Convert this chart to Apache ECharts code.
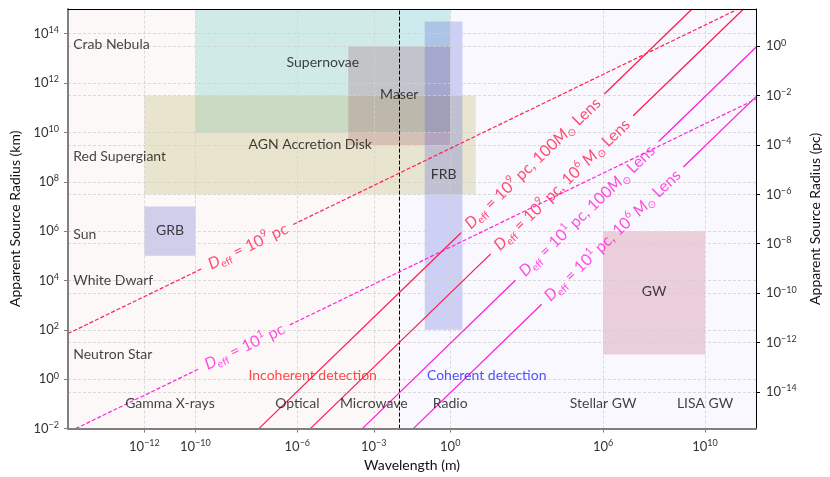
<!DOCTYPE html>
<html>
<head>
<meta charset="utf-8">
<script src="https://cdn.jsdelivr.net/npm/echarts@6/dist/echarts.min.js"></script>
<style>
html, body { margin: 0; padding: 0; background: #fff; }
#chart { width: 830px; height: 477px; }
</style>
</head>
<body>
<div id="chart"></div>
<script>
const lg = Math.log10;
const KM_PER_PC = 3.0857e13;

// axis ticks (m, km, pc)
const xTickValues = [1e-12, 1e-10, 1e-6, 1e-3, 1, 1e6, 1e10];
const yKmTickValues = [1e-2, 1, 1e2, 1e4, 1e6, 1e8, 1e10, 1e12, 1e14];
const yPcTickValues = [1e-14, 1e-12, 1e-10, 1e-8, 1e-6, 1e-4, 1e-2, 1];
const xRange = [1e-15, 1e12];
const yKmRange = [1e-2, 1e15];

// astrophysical objects (radius in km)
const objectNames = ['Crab Nebula', 'Red Supergiant', 'Sun', 'White Dwarf', 'Neutron Star'];
const objectRadii = [3.5e13, 1.1e9, 7.4e5, 1.0e4, 10];
const objectLabelWavelength = 1.6e-15;

// wavelength bands
const bandNames = ['Gamma X-rays', 'Optical', 'Microwave', 'Radio', 'Stellar GW', 'LISA GW'];
const bandWavelengths = [1e-11, 1e-6, 1e-3, 1, 1e6, 1e10];
const bandLabelRadius = 0.1;

// shaded source regions: [lambda min, lambda max], [R min, R max]
const regionNames = ['Supernovae', 'AGN Accretion Disk', 'Maser', 'FRB', 'GRB', 'GW'];
const regionWavelengths = [[1e-10, 1], [1e-12, 10], [1e-4, 1], [0.1, 3], [1e-12, 1e-10], [1e6, 1e10]];
const regionRadii = [[1e10, 1e15], [3.09e7, 3.09e11], [3.09e9, 3.09e13], [100, 3.09e14], [1e5, 1e7], [10, 1e6]];
const regionLabelAt = [[1e-5, 6.5e12], [3.2e-6, 3.2e9], [1e-2, 3.3e11], [0.55, 2e8], [1e-11, 1.1e6], [1e8, 3.5e3]];

// detection regimes
const coherentBoundary = 0.01;
const detectionNames = ['Incoherent detection', 'Coherent detection'];
const detectionAt = [[4e-6, 1.45], [27, 1.45]];

// lines: start, gap start, gap end, end  [lambda (m), R (km)]
const fresnel9 = [[1e-15, 70.8], [1.95e-10, 3.13e4], [6.9e-7, 1.86e6], [2e11, 1e15]];
const fresnel1 = [[2e-15, 0.01], [1.43e-10, 2.68], [5.07e-7, 159], [1e12, 2.24e11]];
const lens9m2 = [[3.09e-8, 0.01], [2.67, 8.6e5], [1.12e6, 3.6e11], [3.09e9, 1e15]];
const lens9m6 = [[3.24e-6, 0.01], [38.9, 1.2e5], [1.51e7, 4.7e10], [3.24e11, 1e15]];
const lens1m2 = [[3.55e-4, 0.01], [363, 1.02e4], [1.51e8, 4.27e9], [1e12, 2.82e13]];
const lens1m6 = [[0.0355, 0.01], [3890, 1.1e3], [1.41e9, 4e8], [1e12, 2.82e11]];

const lineLabels = [
    '{i|D}{sub|eff}{n| = 10}{sup|9}{n| pc}',
    '{i|D}{sub|eff}{n| = 10}{sup|1}{n| pc}',
    '{i|D}{sub|eff}{n| = 10}{sup|9}{n| pc, 100}{i|M}{sub|\u2299}{n| Lens}',
    '{i|D}{sub|eff}{n| = 10}{sup|9}{n| pc, 10}{sup|6}{i| M}{sub|\u2299}{n| Lens}',
    '{i|D}{sub|eff}{n| = 10}{sup|1}{n| pc, 100}{i|M}{sub|\u2299}{n| Lens}',
    '{i|D}{sub|eff}{n| = 10}{sup|1}{n| pc, 10}{sup|6}{i| M}{sub|\u2299}{n| Lens}'
];

// ---- styles ----
const FONT = 'Lato';
const RED = '#ff2050';
const MAGENTA = '#ff22d8';
const TEXT = '#111';
const GRID = { left: 64, right: 69, top: 9, bottom: 48 };
const W = 830, H = 477;
const regionColors = [
    'rgba(32,178,170,0.2)',
    'rgba(189,183,107,0.3)',
    'rgba(150,65,85,0.22)',
    'rgba(80,90,215,0.26)',
    'rgba(80,80,195,0.25)',
    'rgba(180,60,90,0.22)'
];

const pxPerDecX = (W - GRID.left - GRID.right) / (lg(xRange[1]) - lg(xRange[0]));
const pxPerDecY = (H - GRID.top - GRID.bottom) / (lg(yKmRange[1]) - lg(yKmRange[0]));

function expText(v) {
    const e = Math.round(v);
    return e < 0 ? '\u2212' + (-e) : String(e);
}
function powLabel(v) {
    return '{b|10}{s|' + expText(v) + '}';
}
const tickRich = {
    b: { fontSize: 13, fontFamily: FONT, color: '#333', lineHeight: 16 },
    s: { fontSize: 9, fontFamily: FONT, color: '#333', lineHeight: 8, verticalAlign: 'top' }
};

function lineRich(color) {
    return {
        n: { fontSize: 16, fontFamily: FONT, color: color, lineHeight: 21 },
        i: { fontSize: 16, fontFamily: FONT, fontStyle: 'italic', color: color, lineHeight: 21 },
        sub: { fontSize: 10.5, fontFamily: FONT, color: color, lineHeight: 15, verticalAlign: 'bottom' },
        sup: { fontSize: 10.5, fontFamily: FONT, color: color, lineHeight: 10, verticalAlign: 'top' }
    };
}

const lineDefs = [
    { name: 'fresnel9', pts: fresnel9, color: RED, dashed: true },
    { name: 'fresnel1', pts: fresnel1, color: MAGENTA, dashed: true },
    { name: 'lens9m2', pts: lens9m2, color: RED, dashed: false },
    { name: 'lens9m6', pts: lens9m6, color: RED, dashed: false },
    { name: 'lens1m2', pts: lens1m2, color: MAGENTA, dashed: false },
    { name: 'lens1m6', pts: lens1m6, color: MAGENTA, dashed: false }
];

const series = [];

// plot background: incoherent / coherent halves
series.push({
    type: 'line', data: [], silent: true,
    markArea: {
        silent: true, z: 0, label: { show: false },
        data: [
            [{ xAxis: lg(xRange[0]), itemStyle: { color: '#fdf8f8' } }, { xAxis: lg(coherentBoundary) }],
            [{ xAxis: lg(coherentBoundary), itemStyle: { color: '#f9f8fe' } }, { xAxis: lg(xRange[1]) }]
        ]
    }
});

// source regions
series.push({
    type: 'line', data: [], silent: true,
    markArea: {
        silent: true, z: 1, label: { show: false },
        data: regionNames.map((n, i) => [
            { xAxis: lg(regionWavelengths[i][0]), yAxis: lg(regionRadii[i][0]), itemStyle: { color: regionColors[i] } },
            { xAxis: lg(regionWavelengths[i][1]), yAxis: lg(regionRadii[i][1]) }
        ])
    }
});

// grid lines
const gridLineStyle = { color: '#d0d0d0', type: [3, 2], width: 0.8 };
series.push({
    type: 'line', data: [], silent: true,
    markLine: {
        silent: true, z: 2, symbol: ['none', 'none'], label: { show: false },
        lineStyle: gridLineStyle, animation: false,
        data: xTickValues.map(v => ({ xAxis: lg(v) })).concat(yKmTickValues.map(v => ({ yAxis: lg(v) })))
    }
});
series.push({
    type: 'line', data: [], silent: true, yAxisIndex: 1,
    markLine: {
        silent: true, z: 2, symbol: ['none', 'none'], label: { show: false },
        lineStyle: gridLineStyle, animation: false,
        data: yPcTickValues.map(v => ({ yAxis: lg(v) }))
    }
});

// coherent / incoherent boundary
series.push({
    type: 'line', data: [], silent: true,
    markLine: {
        silent: true, z: 3, symbol: ['none', 'none'], label: { show: false },
        lineStyle: { color: '#000', type: [4, 2], width: 1 }, animation: false,
        data: [{ xAxis: lg(coherentBoundary) }]
    }
});

// scaling lines with a gap for the inline label
lineDefs.forEach((d, k) => {
    const p = d.pts.map(q => [lg(q[0]), lg(q[1])]);
    series.push({
        name: d.name, type: 'line', color: d.color, symbol: 'none', silent: true, z: 4,
        connectNulls: false, showSymbol: false,
        data: [p[0], p[1], [(p[1][0] + p[2][0]) / 2, null], p[2], p[3]],
        itemStyle: { color: d.color },
        lineStyle: { color: d.color, width: d.dashed ? 1.2 : 1.3, opacity: 1, type: d.dashed ? [4, 2] : 'solid' },
        emphasis: { disabled: true }
    });
    const slope = (p[2][1] - p[1][1]) / (p[2][0] - p[1][0]);
    const angle = Math.atan(slope * pxPerDecY / pxPerDecX) * 180 / Math.PI;
    series.push({
        type: 'scatter', silent: true, z: 6, symbolSize: 1,
        itemStyle: { color: 'rgba(0,0,0,0)' },
        data: [[(p[1][0] + p[2][0]) / 2, (p[1][1] + p[2][1]) / 2]],
        label: {
            show: true, position: 'inside', rotate: angle,
            formatter: lineLabels[k], rich: lineRich(d.color)
        }
    });
});

// plain text labels
function textSeries(names, coords, color, align) {
    return {
        type: 'scatter', silent: true, z: 6, symbolSize: 1,
        itemStyle: { color: 'rgba(0,0,0,0)' },
        data: names.map((n, i) => ({ name: n, value: [lg(coords[i][0]), lg(coords[i][1])] })),
        label: {
            show: true, position: 'inside', align: align, formatter: '{b}',
            fontFamily: FONT, fontSize: 14, color: color
        }
    };
}
series.push(textSeries(objectNames, objectRadii.map(r => [objectLabelWavelength, r]), TEXT, 'left'));
series.push(textSeries(bandNames, bandWavelengths.map(l => [l, bandLabelRadius]), TEXT, 'center'));
series.push(textSeries(regionNames, regionLabelAt, TEXT, 'center'));
series.push(textSeries(detectionNames.slice(0, 1), detectionAt.slice(0, 1), '#ff1a1a', 'center'));
series.push(textSeries(detectionNames.slice(1), detectionAt.slice(1), '#2626ff', 'center'));

const nameStyle = { fontFamily: FONT, fontSize: 14, color: TEXT };
const grayAxis = { show: true, onZero: false, lineStyle: { color: '#808080', width: 2 } };
const blackAxis = { show: true, onZero: false, lineStyle: { color: '#000', width: 1 } };

const option = {
    animation: false,
    grid: { left: GRID.left, right: GRID.right, top: GRID.top, bottom: GRID.bottom, containLabel: false },
    xAxis: [
        {
            type: 'value', min: lg(xRange[0]), max: lg(xRange[1]), position: 'bottom', z: 10,
            name: 'Wavelength (m)', nameLocation: 'middle', nameGap: 29, nameTextStyle: nameStyle,
            axisLine: grayAxis,
            axisTick: { show: true, length: 4, lineStyle: { color: '#808080' }, customValues: xTickValues.map(lg) },
            axisLabel: { margin: 10, customValues: xTickValues.map(lg), formatter: powLabel, rich: tickRich },
            splitLine: { show: false }
        },
        {
            type: 'value', min: lg(xRange[0]), max: lg(xRange[1]), position: 'top', z: 10,
            axisLine: blackAxis,
            axisTick: { show: false }, axisLabel: { show: false }, splitLine: { show: false }
        }
    ],
    yAxis: [
        {
            type: 'value', min: lg(yKmRange[0]), max: lg(yKmRange[1]), position: 'left', z: 10,
            name: 'Apparent Source Radius (km)', nameLocation: 'middle', nameGap: 46, nameRotate: 90,
            nameTextStyle: nameStyle,
            axisLine: grayAxis,
            axisTick: { show: true, length: 4, lineStyle: { color: '#808080' }, customValues: yKmTickValues.map(lg) },
            axisLabel: { margin: 9, customValues: yKmTickValues.map(lg), formatter: powLabel, rich: tickRich },
            splitLine: { show: false }
        },
        {
            type: 'value', min: lg(yKmRange[0] / KM_PER_PC), max: lg(yKmRange[1] / KM_PER_PC),
            position: 'right', z: 10,
            name: 'Apparent Source Radius (pc)', nameLocation: 'middle', nameGap: 52, nameRotate: 90,
            nameTextStyle: nameStyle,
            axisLine: blackAxis,
            axisTick: { show: true, length: 4, lineStyle: { color: '#000' }, customValues: yPcTickValues.map(lg) },
            axisLabel: { margin: 10, customValues: yPcTickValues.map(lg), formatter: powLabel, rich: tickRich },
            splitLine: { show: false }
        }
    ],
    series: series
};

const chart = echarts.init(document.getElementById('chart'), null, { renderer: 'canvas' });
chart.setOption(option);
</script>
</body>
</html>
